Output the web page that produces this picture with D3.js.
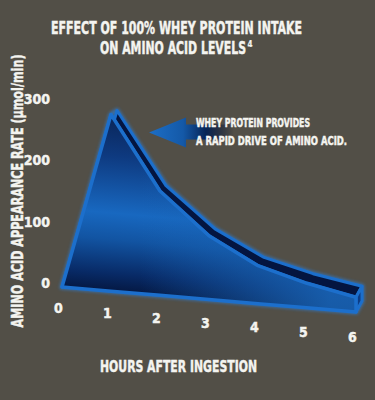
<!DOCTYPE html>
<html>
<head>
<meta charset="utf-8">
<script src="https://cdn.jsdelivr.net/npm/d3@7"></script>
<style>
  html, body { margin: 0; padding: 0; background: #524f47; }
  svg { display: block; }
  text { fill: #f4f4f0; stroke: #f4f4f0; stroke-width: 0.45; font-family: "Liberation Sans Narrow", "DejaVu Sans Condensed", "Roboto", sans-serif; font-weight: bold; }
</style>
</head>
<body>
<svg id="chart" width="375" height="400"></svg>
<script>
// data
var hours = [0, 1, 2, 3, 4, 5, 6]
var rates = [0, 288, 170, 104, 62, 40, 24]
var yTicks = [0, 100, 200, 300]
var titleLines = ['EFFECT OF 100% WHEY PROTEIN INTAKE', 'ON AMINO ACID LEVELS']
var noteLines = ['WHEY PROTEIN PROVIDES', 'A RAPID DRIVE OF AMINO ACID.']

var data = hours.map(function (h, i) { return { h: h, v: rates[i] } })

var svg = d3.select('#chart')

var x = d3.scaleLinear().domain([0, 6]).range([62, 356])
var y = d3.scaleLinear().domain([0, 300]).range([287, 103])
// the chart floor tilts down to the right
var drop = d3.scaleLinear().domain([0, 6]).range([0, 25])
var labelY = d3.scaleLinear().domain([0, 6]).range([313, 342])
// depth of the ribbon, grows a bit toward the back right
var depthX = 6
var depthY = d3.scaleLinear().domain([0, 6]).range([-2.6, -11])

function frontTop (d) { return [x(d.h), y(d.v) + drop(d.h)] }
function backTop (d) { return [x(d.h) + depthX, y(d.v) + drop(d.h) + depthY(d.h)] }
function frontBot (d) { return [x(d.h), y(0) + drop(d.h)] }
function backBot (d) { return [x(d.h) + depthX, y(0) + drop(d.h) + depthY(d.h)] }

var defs = svg.append('defs')

var faceGrad = defs.append('linearGradient')
  .attr('id', 'faceGrad')
  .attr('gradientUnits', 'userSpaceOnUse')
  .attr('x1', 0).attr('y1', 110).attr('x2', 0).attr('y2', 300)
  .attr('gradientTransform', 'matrix(1,0.085,0,1,0,-5.3)')
;[['0', '#0a2558'], ['0.22', '#0e3a80'], ['0.52', '#1868c0'], ['0.66', '#1254a2'], ['0.84', '#082a66'], ['1', '#020b28']]
  .forEach(function (s) { faceGrad.append('stop').attr('offset', s[0]).attr('stop-color', s[1]) })

var sideGrad = defs.append('linearGradient')
  .attr('id', 'sideGrad')
  .attr('gradientUnits', 'userSpaceOnUse')
  .attr('x1', 140).attr('y1', 0).attr('x2', 330).attr('y2', 0)
sideGrad.append('stop').attr('offset', 0).attr('stop-color', '#1a66b8').attr('stop-opacity', 0)
sideGrad.append('stop').attr('offset', 1).attr('stop-color', '#1a66b8').attr('stop-opacity', 0.85)

var arrowGrad = defs.append('linearGradient')
  .attr('id', 'arrowGrad')
  .attr('gradientUnits', 'userSpaceOnUse')
  .attr('x1', 146).attr('y1', 0).attr('x2', 234).attr('y2', 0)
;[['0', '#1d70c8', 1], ['0.42', '#1459a8', 1], ['0.68', '#072456', 1], ['1', '#000a28', 0]]
  .forEach(function (s) {
    arrowGrad.append('stop').attr('offset', s[0]).attr('stop-color', s[1]).attr('stop-opacity', s[2])
  })

defs.append('filter')
  .attr('id', 'glow')
  .attr('x', '-10%').attr('y', '-10%').attr('width', '120%').attr('height', '120%')
  .append('feGaussianBlur')
  .attr('stdDeviation', 1.4)

var last = data[data.length - 1]
var line = d3.line()

// outer silhouette: front left edge, back top edge, end cap, floor
var outline = [frontTop(data[0]), frontTop(data[1])]
  .concat(data.slice(1).map(backTop))
  .concat([backBot(last), frontBot(last)])

var strip = data.map(frontTop).concat(data.slice().reverse().map(backTop))
var cap = [frontTop(last), backTop(last), backBot(last), frontBot(last)]

var area = d3.area()
  .x(function (d) { return x(d.h) })
  .y0(function (d) { return y(0) + drop(d.h) })
  .y1(function (d) { return y(d.v) + drop(d.h) })

var ribbon = svg.append('g')

ribbon.append('path')
  .attr('d', line(outline) + 'Z')
  .attr('fill', 'none')
  .attr('stroke', '#2a82e0')
  .attr('stroke-width', 5)
  .attr('stroke-linejoin', 'round')
  .attr('opacity', 0.6)
  .attr('filter', 'url(#glow)')

ribbon.append('path')
  .attr('d', line(strip) + 'Z')
  .attr('fill', '#041540')
  .attr('stroke', '#1c6fcc')
  .attr('stroke-width', 3)
  .attr('stroke-linejoin', 'round')

ribbon.append('path')
  .attr('d', line(cap) + 'Z')
  .attr('fill', '#0c3c85')
  .attr('stroke', '#1c6fcc')
  .attr('stroke-width', 3)
  .attr('stroke-linejoin', 'round')

ribbon.append('path')
  .datum(data)
  .attr('d', area)
  .attr('fill', 'url(#faceGrad)')

ribbon.append('path')
  .datum(data)
  .attr('d', area)
  .attr('fill', 'url(#sideGrad)')
  .attr('stroke', '#1c6fcc')
  .attr('stroke-width', 3.5)
  .attr('stroke-linejoin', 'round')

// arrow pointing at the peak
var peak = frontTop(data[1])
var ax = peak[0] + 38
var ay = peak[1] + 18
var arrow = [[ax, ay], [ax + 37, ay - 15], [ax + 37, ay - 8], [ax + 88, ay - 8],
  [ax + 88, ay + 7], [ax + 37, ay + 7], [ax + 37, ay + 15]]

svg.append('path')
  .attr('d', line(arrow) + 'Z')
  .attr('fill', 'url(#arrowGrad)')

// titles
svg.append('text')
  .attr('x', 176.5).attr('y', 34)
  .attr('text-anchor', 'middle')
  .attr('font-size', 17)
  .attr('textLength', 251)
  .attr('lengthAdjust', 'spacingAndGlyphs')
  .text(titleLines[0])

svg.append('text')
  .attr('x', 100).attr('y', 54)
  .attr('font-size', 17)
  .attr('textLength', 146)
  .attr('lengthAdjust', 'spacingAndGlyphs')
  .text(titleLines[1])

svg.append('text')
  .attr('x', 247.5).attr('y', 47)
  .attr('font-size', 8)
  .style('stroke-width', 0.2)
  .text('4')

svg.selectAll('text.note')
  .data(noteLines)
  .enter().append('text')
  .attr('class', 'note')
  .attr('x', 196)
  .attr('y', function (d, i) { return 127 + i * 18 })
  .attr('font-size', 11.5)
  .attr('textLength', function (d, i) { return i === 0 ? 114 : 151 })
  .attr('lengthAdjust', 'spacingAndGlyphs')
  .text(function (d) { return d })

// axes labels
svg.selectAll('text.ytick')
  .data(yTicks)
  .enter().append('text')
  .attr('class', 'ytick')
  .attr('x', 50)
  .attr('y', function (d) { return y(d) + 1 })
  .attr('text-anchor', 'end')
  .attr('font-size', 14)
  .text(function (d) { return d })

svg.selectAll('text.xtick')
  .data(hours)
  .enter().append('text')
  .attr('class', 'xtick')
  .attr('x', function (d) { return x(d) - 3.5 })
  .attr('y', function (d) { return labelY(d) })
  .attr('text-anchor', 'middle')
  .attr('font-size', 14)
  .text(function (d) { return d })

svg.append('text')
  .attr('transform', 'translate(23,191) rotate(-90)')
  .attr('text-anchor', 'middle')
  .attr('font-size', 16.5)
  .attr('textLength', 273)
  .attr('lengthAdjust', 'spacingAndGlyphs')
  .text('AMINO ACID APPEARANCE RATE (\u03bcmol/min)')

svg.append('text')
  .attr('x', 178.5).attr('y', 372)
  .attr('text-anchor', 'middle')
  .attr('font-size', 16.5)
  .attr('textLength', 157)
  .attr('lengthAdjust', 'spacingAndGlyphs')
  .text('HOURS AFTER INGESTION')
</script>
</body>
</html>
